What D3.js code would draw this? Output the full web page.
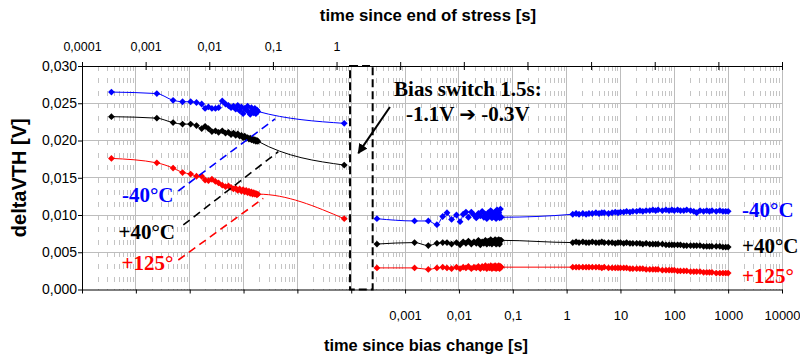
<!DOCTYPE html>
<html>
<head>
<meta charset="utf-8">
<script src="https://cdn.jsdelivr.net/npm/d3@7"></script>
<style>
  html, body { margin: 0; padding: 0; background: #fff; }
  svg { display: block; }
</style>
</head>
<body>
<svg id="chart" width="800" height="362"></svg>
<script>
// ---- tick values ----
const topTicks = [1e-4, 1e-3, 1e-2, 1e-1, 1, 1e1, 1e2, 1e3, 1e4, 1e5, 1e6, 1e7];
const topLabelled = [1e-4, 1e-3, 1e-2, 1e-1, 1];
const bottomTicks = [1e-9, 1e-8, 1e-7, 1e-6, 1e-5, 1e-4, 1e-3, 1e-2, 1e-1, 1, 1e1, 1e2, 1e3, 1e4];
const bottomLabelled = [1e-3, 1e-2, 1e-1, 1, 1e1, 1e2, 1e3, 1e4];
const yTicks = [0, 0.005, 0.010, 0.015, 0.020, 0.025, 0.030];

// ---- phase 1: time since end of stress [s] ----
const stressTime = [
  0.00029, 0.0015, 0.0027, 0.0038, 0.0051, 0.0063, 0.0076, 0.0086,
  0.0097, 0.011, 0.0125, 0.014, 0.016, 0.018, 0.020, 0.022, 0.024, 0.026,
  0.028, 0.030, 0.032, 0.034, 0.036, 0.038, 0.040, 0.042, 0.044, 0.046,
  0.048, 0.050, 0.052, 0.054, 0.056, 0.058,
  1.32
];
const stressM40 = [
  0.0265, 0.0263, 0.0254, 0.0252, 0.0252, 0.0251, 0.0249, 0.0243,
  0.0245, 0.0243, 0.0243, 0.0244, 0.0253, 0.0249, 0.0247, 0.0244, 0.0246, 0.0242,
  0.0247, 0.0240, 0.0245, 0.0236, 0.0243, 0.0241, 0.0246, 0.0238, 0.0235, 0.0244,
  0.0240, 0.0237, 0.0243, 0.0236, 0.0241, 0.0239,
  0.0223
];
const stressP40 = [
  0.0232, 0.0230, 0.0224, 0.0222, 0.0222, 0.0220, 0.0216, 0.0219,
  0.0216, 0.0212, 0.0213, 0.0211, 0.0213, 0.0210, 0.0211, 0.0208, 0.0210, 0.0207,
  0.0209, 0.0206, 0.0207, 0.0204, 0.0206, 0.0203, 0.0204, 0.0202, 0.0203, 0.0201,
  0.0202, 0.0200, 0.0201, 0.0199, 0.0200, 0.0199,
  0.0167
];
const stressP125 = [
  0.0176, 0.0170, 0.0163, 0.0157, 0.0155, 0.0152, 0.0152, 0.0147,
  0.0146, 0.0148, 0.0145, 0.0143, 0.0140, 0.0138, 0.0139, 0.0137, 0.0135, 0.0136,
  0.0133, 0.0135, 0.0132, 0.0134, 0.0131, 0.0133, 0.0130, 0.0132, 0.0129, 0.0131,
  0.0128, 0.0130, 0.0128, 0.0129, 0.0127, 0.0128,
  0.0095
];

// ---- phase 2: time since bias change [s] ----
const biasTime = [
  0.0003, 0.0015, 0.0027, 0.0039, 0.005, 0.006, 0.0073,
  0.009, 0.0105, 0.012, 0.0135, 0.015, 0.017, 0.019, 0.021, 0.023, 0.025,
  0.027, 0.029, 0.031, 0.033, 0.035, 0.037, 0.039, 0.041, 0.043, 0.045,
  0.047, 0.049, 0.051, 0.053, 0.055, 0.057, 0.059, 0.061,
  1.3, 1.5, 1.7, 2, 2.3, 2.6, 3, 3.5, 4, 4.5,
  5, 6, 7, 8, 9, 10, 11.5, 13, 15, 17,
  20, 23, 26, 30, 35, 40, 45, 50, 60, 70,
  80, 90, 100, 115, 130, 150, 170, 200, 230, 260,
  300, 350, 400, 450, 500, 600, 700, 800, 900, 1000
];
const biasM40 = [
  0.0095, 0.0092, 0.0092, 0.0087, 0.0098, 0.0103, 0.0094,
  0.0100, 0.0091, 0.0101, 0.0104, 0.0097, 0.0104, 0.0100, 0.0096, 0.0102, 0.0099,
  0.0105, 0.0097, 0.0101, 0.0095, 0.0103, 0.0099, 0.0106, 0.0096, 0.0102, 0.0098,
  0.0104, 0.0095, 0.0107, 0.0099, 0.0103, 0.0096, 0.0108, 0.0097,
  0.0101, 0.0102, 0.0101, 0.0102, 0.0101, 0.0102, 0.0102, 0.0103, 0.0102, 0.0103,
  0.0103, 0.0102, 0.0103, 0.0104, 0.0103, 0.0104, 0.0104, 0.0105, 0.0104, 0.0105,
  0.0105, 0.0106, 0.0105, 0.0106, 0.0106, 0.0107, 0.0106, 0.0107, 0.0106, 0.0107,
  0.0106, 0.0107, 0.0106, 0.0107, 0.0106, 0.0106, 0.0107, 0.0106, 0.0105, 0.0103,
  0.0106, 0.0105, 0.0106, 0.0105, 0.0106, 0.0105, 0.0106, 0.0105, 0.0105, 0.0105
];
const biasP40 = [
  0.0061, 0.0063, 0.0059, 0.0062, 0.0063, 0.0063, 0.0061,
  0.0063, 0.0060, 0.0064, 0.0062, 0.0065, 0.0061, 0.0064, 0.0062, 0.0066, 0.0060,
  0.0064, 0.0062, 0.0066, 0.0061, 0.0065, 0.0062, 0.0067, 0.0061, 0.0065, 0.0063,
  0.0067, 0.0061, 0.0066, 0.0062, 0.0067, 0.0061, 0.0066, 0.0066,
  0.0063, 0.0064, 0.0063, 0.0064, 0.0063, 0.0063, 0.0064, 0.0063, 0.0063, 0.0064,
  0.0063, 0.0063, 0.0063, 0.0062, 0.0063, 0.0063, 0.0062, 0.0063, 0.0062, 0.0062,
  0.0062, 0.0062, 0.0061, 0.0062, 0.0061, 0.0061, 0.0061, 0.0061, 0.0061, 0.0060,
  0.0060, 0.0060, 0.0060, 0.0060, 0.0060, 0.0059, 0.0059, 0.0059, 0.0059, 0.0059,
  0.0059, 0.0058, 0.0058, 0.0058, 0.0058, 0.0058, 0.0058, 0.0057, 0.0057, 0.0057
];
const biasP125 = [
  0.0029, 0.0029, 0.0027, 0.0029, 0.0030, 0.0029, 0.0028,
  0.0030, 0.0028, 0.0030, 0.0029, 0.0031, 0.0028, 0.0030, 0.0029, 0.0031, 0.0028,
  0.0031, 0.0029, 0.0032, 0.0028, 0.0031, 0.0029, 0.0032, 0.0028, 0.0031, 0.0029,
  0.0032, 0.0028, 0.0031, 0.0029, 0.0032, 0.0028, 0.0031, 0.0030,
  0.0030, 0.0030, 0.0030, 0.0030, 0.0030, 0.0030, 0.0030, 0.0030, 0.0030, 0.0029,
  0.0030, 0.0029, 0.0029, 0.0029, 0.0029, 0.0029, 0.0029, 0.0029, 0.0028, 0.0028,
  0.0028, 0.0028, 0.0028, 0.0027, 0.0027, 0.0027, 0.0027, 0.0027, 0.0026, 0.0026,
  0.0026, 0.0026, 0.0026, 0.0025, 0.0025, 0.0025, 0.0025, 0.0024, 0.0024, 0.0024,
  0.0024, 0.0023, 0.0023, 0.0023, 0.0023, 0.0022, 0.0022, 0.0022, 0.0022, 0.0022
];

const seriesNames = ["-40°C", "+40°C", "+125°"];
const seriesColors = ["#0000ff", "#000000", "#ff0000"];

// ---- layout ----
const W = 800, H = 362;
const margin = { top: 66, right: 18, bottom: 72.5, left: 82 };
const xL = margin.left, xR = W - margin.right;
const yB = H - margin.bottom, yT = margin.top;

const xStress = d3.scaleLog().domain([1e-4, 1e7]).range([xL, xR]);
const xBias = d3.scaleLog().domain([1e-9, 1e4]).range([xL, xR]);
const y = d3.scaleLinear().domain([0, 0.030]).range([yB, yT]);

const locale = d3.formatLocale({ decimal: ",", thousands: "", grouping: [3], currency: ["", ""] });
const fmtTime = locale.format(".4~f");
const fmtY = locale.format(".3f");

const sans = "'Liberation Sans', Arial, sans-serif";
const serif = "'Liberation Serif', 'Times New Roman', serif";

const svg = d3.select("#chart");

// ---- gridlines ----
const grid = svg.append("g");
const minor = [];
bottomTicks.slice(0, -1).forEach(d => { for (let k = 2; k <= 9; k++) minor.push(d * k); });
grid.selectAll("line.minor").data(minor).join("line")
  .attr("x1", d => xBias(d)).attr("x2", d => xBias(d))
  .attr("y1", yT).attr("y2", yB)
  .attr("stroke", "#c4c4c4").attr("stroke-width", 1)
  .attr("stroke-dasharray", "5,7.4").attr("shape-rendering", "crispEdges");
grid.selectAll("line.vmajor").data(bottomTicks.slice(1)).join("line")
  .attr("x1", d => xBias(d)).attr("x2", d => xBias(d))
  .attr("y1", yT).attr("y2", yB)
  .attr("stroke", "#bdbdbd").attr("stroke-width", 1).attr("shape-rendering", "crispEdges");
grid.selectAll("line.hmajor").data(yTicks.slice(1, -1)).join("line")
  .attr("x1", xL).attr("x2", xR)
  .attr("y1", d => y(d)).attr("y2", d => y(d))
  .attr("stroke", "#bdbdbd").attr("stroke-width", 1).attr("shape-rendering", "crispEdges");

// ---- axes ----
function styleAxis(g, size) {
  g.select(".domain").attr("stroke", "#000").attr("stroke-width", 1);
  g.selectAll(".tick line").attr("stroke", "#000");
  g.selectAll(".tick text").attr("font-family", sans).attr("font-size", size).attr("fill", "#000");
}

const axTop = svg.append("g").attr("transform", `translate(0,${yT})`)
  .call(d3.axisTop(xStress).tickValues(topTicks).tickSize(4).tickSizeOuter(0).tickPadding(11.5)
    .tickFormat(d => topLabelled.includes(d) ? fmtTime(d) : ""));
axTop.selectAll(".tick line").attr("y1", 4);
styleAxis(axTop, "12.5px");

const axBottom = svg.append("g").attr("transform", `translate(0,${yB})`)
  .call(d3.axisBottom(xBias).tickValues(bottomTicks).tickSize(4).tickSizeOuter(0).tickPadding(17.5)
    .tickFormat(d => bottomLabelled.includes(d) ? fmtTime(d) : ""));
styleAxis(axBottom, "13px");

const axLeft = svg.append("g").attr("transform", `translate(${xL},0)`)
  .call(d3.axisLeft(y).tickValues(yTicks).tickSize(4).tickSizeOuter(0).tickPadding(1).tickFormat(fmtY));
styleAxis(axLeft, "14px");

// axis titles
svg.append("text").attr("x", 428).attr("y", 21).attr("text-anchor", "middle")
  .attr("font-family", sans).attr("font-weight", "bold").attr("font-size", "16.8px")
  .text("time since end of stress [s]");
svg.append("text").attr("x", 426).attr("y", 350.5).attr("text-anchor", "middle")
  .attr("font-family", sans).attr("font-weight", "bold").attr("font-size", "16.4px")
  .text("time since bias change [s]");
svg.append("text").attr("transform", `translate(26,${(yT + yB) / 2}) rotate(-90)`)
  .attr("text-anchor", "middle")
  .attr("font-family", sans).attr("font-weight", "bold").attr("font-size", "20px")
  .text("deltaVTH [V]");

// ---- bias-switch gap box ----
svg.append("rect")
  .attr("x", xBias(9.5e-5)).attr("y", y(0.030))
  .attr("width", xBias(2.5e-4) - xBias(9.5e-5)).attr("height", y(0) - y(0.030))
  .attr("fill", "none").attr("stroke", "#000").attr("stroke-width", 2)
  .attr("stroke-dasharray", "8,4");

// ---- series ----
const stressSeries = [stressM40, stressP40, stressP125].map((vals, i) => ({
  color: seriesColors[i], pts: stressTime.map((t, j) => ({ t, v: vals[j] }))
}));
const biasSeries = [biasM40, biasP40, biasP125].map((vals, i) => ({
  color: seriesColors[i], pts: biasTime.map((t, j) => ({ t, v: vals[j] }))
}));

const marker = d3.symbol().type(d3.symbolSquare).size(23);

function drawSeries(list, xs) {
  const line = d3.line().x(d => xs(d.t)).y(d => y(d.v)).curve(d3.curveMonotoneX);
  list.forEach(s => {
    const g = svg.append("g");
    g.append("path").attr("d", line(s.pts))
      .attr("fill", "none").attr("stroke", s.color).attr("stroke-width", 1);
    g.selectAll("path.m").data(s.pts).join("path")
      .attr("d", marker)
      .attr("transform", d => `translate(${xs(d.t)},${y(d.v)}) rotate(45)`)
      .attr("fill", s.color);
  });
}
drawSeries(stressSeries, xStress);
drawSeries(biasSeries, xBias);

// ---- dashed leaders from the temperature labels to the stress curves ----
const leaders = [
  { color: seriesColors[0], from: [0.00326, 0.01322], to: [0.108, 0.02289] },
  { color: seriesColors[1], from: [0.00391, 0.00866], to: [0.1216, 0.0185] },
  { color: seriesColors[2], from: [0.00326, 0.00396], to: [0.0706, 0.01224] }
];
svg.selectAll("line.leader").data(leaders).join("line")
  .attr("x1", d => xStress(d.from[0])).attr("y1", d => y(d.from[1]))
  .attr("x2", d => xStress(d.to[0])).attr("y2", d => y(d.to[1]))
  .attr("stroke", d => d.color).attr("stroke-width", 1.6)
  .attr("stroke-dasharray", "8,5");

// temperature labels, left (stress phase) and right (bias phase)
const leftLabels = [
  { t: 0.00274, v: 0.01174 }, { t: 0.00289, v: 0.00678 }, { t: 0.00274, v: 0.00262 }
];
leftLabels.forEach((p, i) => {
  svg.append("text").attr("x", xStress(p.t)).attr("y", y(p.v))
    .attr("text-anchor", "end")
    .attr("font-family", serif).attr("font-weight", "bold").attr("font-size", "21px")
    .attr("fill", seriesColors[i]).text(seriesNames[i]);
});
const rightLabels = [
  { t: 1807, v: 0.00977 }, { t: 1807, v: 0.0049 }, { t: 1807, v: 0.00087 }
];
rightLabels.forEach((p, i) => {
  svg.append("text").attr("x", xBias(p.t)).attr("y", y(p.v))
    .attr("text-anchor", "start")
    .attr("font-family", serif).attr("font-weight", "bold").attr("font-size", "21px")
    .attr("fill", seriesColors[i]).text(seriesNames[i]);
});

// ---- bias switch annotation ----
svg.append("text").attr("x", xStress(116)).attr("y", y(0.02597))
  .attr("text-anchor", "middle")
  .attr("font-family", serif).attr("font-weight", "bold").attr("font-size", "21px")
  .text("Bias switch 1.5s:");
const line2 = svg.append("text").attr("x", xStress(116)).attr("y", y(0.02262))
  .attr("text-anchor", "middle")
  .attr("font-family", serif).attr("font-weight", "bold").attr("font-size", "21px");
line2.append("tspan").text("-1.1V ");
line2.append("tspan").attr("font-family", "'DejaVu Sans', sans-serif").attr("font-size", "20px").text("➔");
line2.append("tspan").text(" -0.3V");

svg.append("defs").append("marker")
  .attr("id", "head").attr("viewBox", "0 0 10 10").attr("refX", 9).attr("refY", 5)
  .attr("markerWidth", 5).attr("markerHeight", 5).attr("orient", "auto")
  .append("path").attr("d", "M0,0 L10,5 L0,10 Z").attr("fill", "#000");
svg.append("line")
  .attr("x1", xStress(6.9)).attr("y1", y(0.0245))
  .attr("x2", xStress(2.2)).attr("y2", y(0.0183))
  .attr("stroke", "#000").attr("stroke-width", 2)
  .attr("marker-end", "url(#head)");
</script>
</body>
</html>
